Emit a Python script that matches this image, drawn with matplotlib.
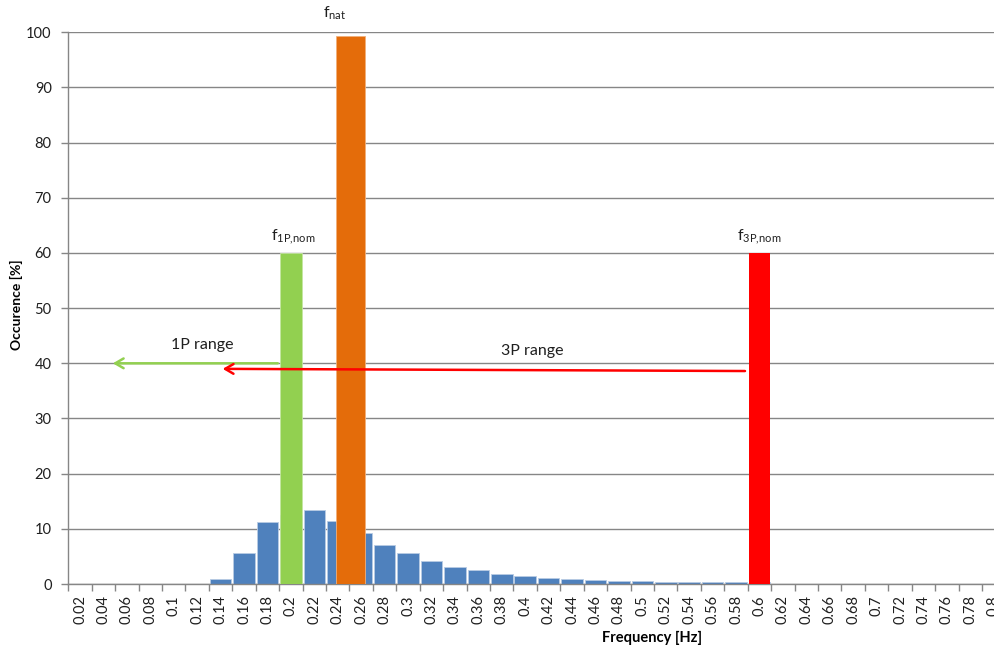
import numpy as np
import matplotlib
matplotlib.use("Agg")
import matplotlib.pyplot as plt

matplotlib.rcParams['font.family'] = ['Lato', 'DejaVu Sans']
matplotlib.rcParams['mathtext.fontset'] = 'custom'
matplotlib.rcParams['mathtext.rm'] = 'Lato'
matplotlib.rcParams['mathtext.it'] = 'Lato'

# frequency classes (Hz) and their tick labels
freqs = [round(0.02 * (i + 1), 2) for i in range(40)]
tick_labels = ["0.02", "0.04", "0.06", "0.08", "0.1", "0.12", "0.14", "0.16", "0.18", "0.2",
               "0.22", "0.24", "0.26", "0.28", "0.3", "0.32", "0.34", "0.36", "0.38", "0.4",
               "0.42", "0.44", "0.46", "0.48", "0.5", "0.52", "0.54", "0.56", "0.58", "0.6",
               "0.62", "0.64", "0.66", "0.68", "0.7", "0.72", "0.74", "0.76", "0.78", "0.8"]

# occurrence of each frequency class [%]
occurence = [0, 0, 0, 0, 0, 0, 0.9, 5.55, 11.3, 12.5,
             13.5, 11.5, 9.2, 7.1, 5.55, 4.16, 3.07, 2.53, 1.87, 1.5,
             1.08, 0.9, 0.72, 0.54, 0.54, 0.36, 0.36, 0.36, 0.36, 0.3,
             0, 0, 0, 0, 0, 0, 0, 0, 0, 0]

# marker bars: frequency [Hz], height [%]
f_1p_nom, h_1p = 0.2, 60
f_nat, h_nat = 0.2512, 99.4
f_3p_nom, h_3p = 0.6, 60

# range arrows: (start Hz, end Hz, start %, end %)
range_1p = (0.1912, 0.0456, 40.0, 40.0)
range_3p = (0.59, 0.1394, 38.6, 39.0)


def pos(f):
    # frequency -> category position
    return f / 0.02 - 1


fig = plt.figure(figsize=(9.95, 6.45), dpi=100)
ax = fig.add_axes([68.3 / 995, 61 / 645, (1005.5 - 68.3) / 995, (584 - 32.3) / 645])

x = np.arange(len(freqs))
ax.bar(x, occurence, width=0.92, color="#4F81BD", edgecolor="#B8CCE4", linewidth=0.6, zorder=2)
ax.bar(pos(f_1p_nom), h_1p, width=0.92, color="#92D050", edgecolor="#C4E6A0", linewidth=0.6, zorder=3)
ax.bar(pos(f_3p_nom), h_3p, width=0.88, color="#FF0000", zorder=3)
ax.bar(pos(f_nat), h_nat, width=1.24, color="#E46C0A", edgecolor="#F2B07A", linewidth=0.6, zorder=3)

ax.text(pos(f_nat) - 0.7, h_nat + 2.5, r"$\mathrm{f}_{\mathrm{nat}}$", ha="center", va="bottom",
        fontsize=11.5, color="#1F1F1F")
ax.text(pos(f_1p_nom) + 0.1, h_1p + 1.2, r"$\mathrm{f}_{\mathrm{1P{,}nom}}$", ha="center", va="bottom",
        fontsize=11.5, color="#1F1F1F")
ax.text(pos(f_3p_nom) + 0.0, h_3p + 1.2, r"$\mathrm{f}_{\mathrm{3P{,}nom}}$", ha="center", va="bottom",
        fontsize=11.5, color="#1F1F1F")

ax.annotate("", xy=(pos(range_1p[1]), range_1p[3]), xytext=(pos(range_1p[0]), range_1p[2]),
            arrowprops=dict(arrowstyle="->,head_length=0.6,head_width=0.35", color="#92D050", lw=1.8),
            zorder=4)
ax.annotate("", xy=(pos(range_3p[1]), range_3p[3]), xytext=(pos(range_3p[0]), range_3p[2]),
            arrowprops=dict(arrowstyle="->,head_length=0.6,head_width=0.35", color="#FF0000", lw=1.8),
            zorder=4)
ax.text(5.2, 42.0, "1P range", ha="center", va="bottom", fontsize=11.5, color="#1F1F1F")
ax.text(19.3, 41.0, "3P range", ha="center", va="bottom", fontsize=11.5, color="#1F1F1F")

ax.set_xlim(-0.5, 39.5)
ax.set_ylim(0, 100)
ax.set_yticks(np.arange(0, 101, 10))
ax.set_xticks(x)
ax.set_xticklabels(tick_labels, rotation=90, fontsize=10.5, color="#1F1F1F")
ax.set_xticks(np.arange(-0.5, 40, 1), minor=True)
ax.tick_params(axis="x", which="major", length=0, pad=8)
ax.tick_params(axis="x", which="minor", length=5, color="#868686", width=1)
ax.tick_params(axis="y", length=5, color="#868686", width=1, labelsize=10.5, pad=7,
               labelcolor="#1F1F1F")
ax.grid(axis="y", color="#868686", linewidth=1, zorder=0)
ax.set_axisbelow(True)
for s in ["top", "right"]:
    ax.spines[s].set_visible(False)
for s in ["left", "bottom"]:
    ax.spines[s].set_color("#868686")
    ax.spines[s].set_linewidth(1)

fig.text(16 / 995, 1 - 305 / 645, "Occurence [%]", rotation=90, ha="center", va="center",
         fontsize=10, fontweight="bold")
fig.text(652 / 995, 1 - 638 / 645, "Frequency [Hz]", ha="center", va="center",
         fontsize=10.5, fontweight="bold")

fig.savefig("out.png", dpi=100)
